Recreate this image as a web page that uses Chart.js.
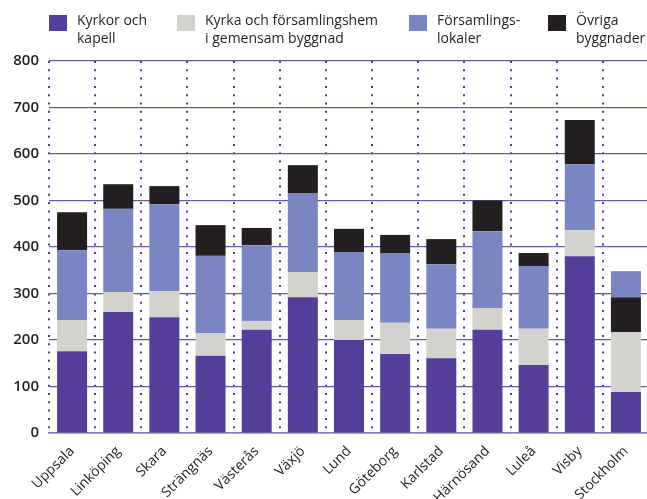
<!DOCTYPE html>
<html lang="sv">
<head>
    <meta charset="UTF-8">
    <title>Byggnader per stift</title>
    <script src="https://cdn.jsdelivr.net/npm/chart.js"></script>
    <style>
        html, body { margin: 0; padding: 0; background: #fff; overflow: hidden; }
        #wrap { position: relative; width: 647px; height: 499px; overflow: hidden; }
        #legend { position: absolute; left: 0; top: 0; width: 647px; height: 55px; }
        .item { position: absolute; top: 11px; font-family: "Open Sans", sans-serif; font-size: 14px;
                font-weight: 500; line-height: 18px; color: #231f20; white-space: nowrap; }
        .box { position: absolute; left: 0; top: 4px; width: 18px; height: 16px; }
        .txt { position: absolute; left: 28px; top: 0; }
    </style>
</head>
<body>
    <div id="wrap">
        <canvas id="chart" width="651" height="499"></canvas>
        <div id="legend"></div>
    </div>
    <script>
        const categories = ['Uppsala', 'Linköping', 'Skara', 'Strängnäs', 'Västerås', 'Växjö', 'Lund',
                            'Göteborg', 'Karlstad', 'Härnösand', 'Luleå', 'Visby', 'Stockholm'];
        const kyrkor = [176, 260, 249, 166, 222, 292, 200, 170, 161, 222, 146, 380, 88];
        const kyrkaHem = [67, 43, 56, 49, 19, 54, 43, 67, 63, 47, 78, 56, 129];
        const lokaler = [150, 179, 187, 166, 163, 170, 146, 150, 139, 165, 135, 142, 56];
        const ovriga = [82, 53, 39, 66, 37, 60, 50, 39, 54, 66, 28, 95, 75];
        // i Stockholm ligger övriga byggnader under församlingslokalerna
        const ovrigaUnder = ['Stockholm'];
        const yTicks = [0, 100, 200, 300, 400, 500, 600, 700, 800];

        const colors = ['#553e98', '#d2d3ce', '#7a86c1', '#231f20'];
        const names = [['Kyrkor och', 'kapell'], ['Kyrka och församlingshem', 'i gemensam byggnad'],
                       ['Församlings-', 'lokaler'], ['Övriga', 'byggnader']];
        const legendX = [49, 177, 409, 548];

        // legend
        const legend = document.getElementById('legend');
        names.forEach((n, i) => {
            const el = document.createElement('div');
            el.className = 'item';
            el.style.left = legendX[i] + 'px';
            el.innerHTML = '<div class="box" style="background:' + colors[i] + '"></div>' +
                           '<div class="txt">' + n.join('<br>') + '</div>';
            legend.appendChild(el);
        });

        const under = ovriga.map((v, i) => ovrigaUnder.includes(categories[i]) ? v : null);
        const over = ovriga.map((v, i) => ovrigaUnder.includes(categories[i]) ? null : v);

        const ds = (label, data, color) => ({
            label: label, data: data, backgroundColor: color, stack: 's',
            barPercentage: 0.65, categoryPercentage: 1.0, borderWidth: 0
        });

        const ctx = document.getElementById('chart').getContext('2d');
        new Chart(ctx, {
            type: 'bar',
            data: {
                labels: categories,
                datasets: [
                    ds(names[0].join(' '), kyrkor, colors[0]),
                    ds(names[1].join(' '), kyrkaHem, colors[1]),
                    ds(names[3].join(' ') + ' (under)', under, colors[3]),
                    ds(names[2].join(''), lokaler, colors[2]),
                    ds(names[3].join(' '), over, colors[3])
                ]
            },
            options: {
                responsive: false,
                animation: false,
                layout: { padding: { top: 61, left: 0, right: 2, bottom: 0 } },
                plugins: { legend: { display: false }, tooltip: { enabled: false } },
                scales: {
                    x: {
                        stacked: true,
                        offset: true,
                        grid: { color: '#553e98', lineWidth: 2, offset: true, drawTicks: false },
                        border: { display: true, color: '#8a78c4', width: 1.5, dash: [2, 6.3] },
                        ticks: {
                            color: '#231f20', maxRotation: 45, minRotation: 45, autoSkip: false, padding: 10,
                            font: { family: 'Open Sans', size: 14, weight: 500 }
                        },
                        afterFit: s => { s.height = 66; }
                    },
                    y: {
                        stacked: true,
                        min: 0, max: 800,
                        afterBuildTicks: s => { s.ticks = yTicks.map(v => ({ value: v })); },
                        grid: { color: '#6a55ad', lineWidth: 1.2, drawTicks: false },
                        border: { display: false },
                        ticks: {
                            color: '#231f20', padding: 10,
                            font: { family: 'Open Sans', size: 15, weight: 600 }
                        },
                        afterFit: s => { s.width = 49; }
                    }
                }
            }
        });
    </script>
</body>
</html>
